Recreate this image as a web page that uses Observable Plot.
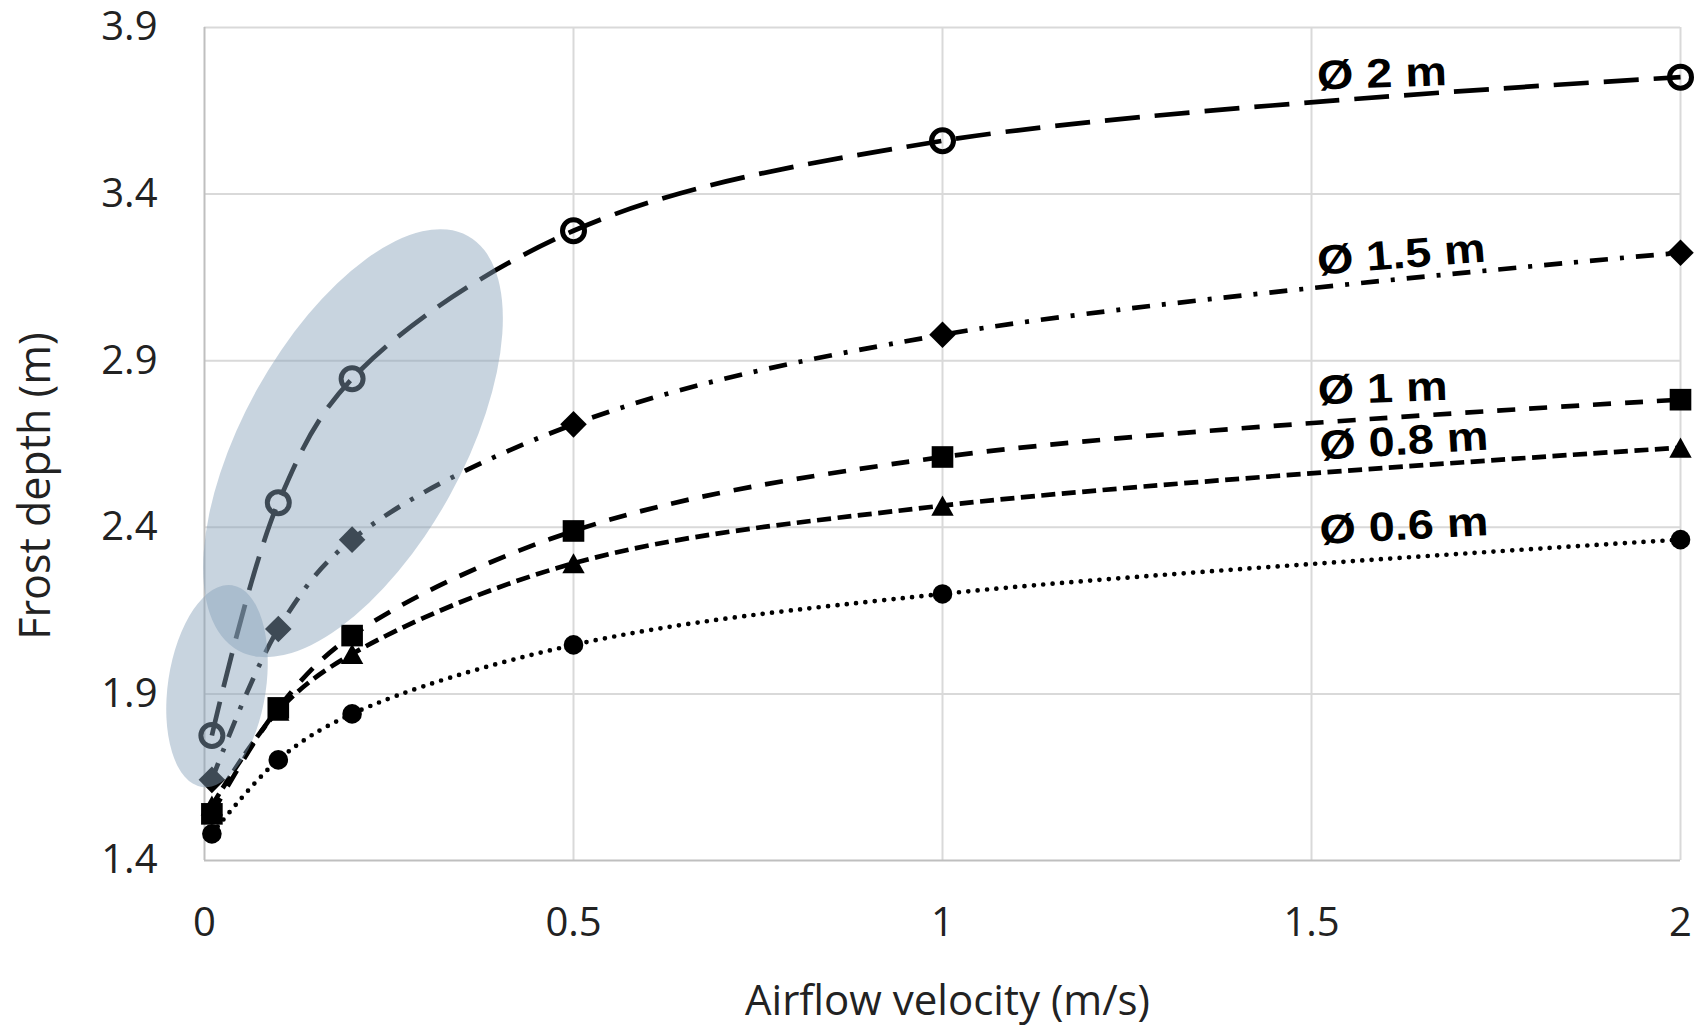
<!DOCTYPE html>
<html>
<head>
<meta charset="utf-8">
<script src="https://cdn.jsdelivr.net/npm/d3@7"></script>
<script src="https://cdn.jsdelivr.net/npm/@observablehq/plot@0.6"></script>
<style>
  body { margin: 0; background: #ffffff; }
  #chart svg { display: block; }
</style>
</head>
<body>
<div id="chart"></div>
<script>
// ---------------- data ----------------
const velocities = [0.01, 0.1, 0.2, 0.5, 1, 2];
const seriesNames = ["Ø 2 m", "Ø 1.5 m", "Ø 1 m", "Ø 0.8 m", "Ø 0.6 m"];
const depth2m   = [1.775, 2.474, 2.846, 3.290, 3.560, 3.751];
const depth15m  = [1.642, 2.095, 2.363, 2.709, 2.978, 3.224];
const depth1m   = [1.540, 1.858, 2.075, 2.389, 2.611, 2.783];
const depth08m  = [1.565, 1.850, 2.020, 2.292, 2.465, 2.639];
const depth06m  = [1.480, 1.702, 1.840, 2.047, 2.200, 2.363];
const xTicks = [0, 0.5, 1, 1.5, 2];
const yTicks = [1.4, 1.9, 2.4, 2.9, 3.4, 3.9];

// label anchors (data units) for the series names
const labelX = [1.508, 1.509, 1.509, 1.512, 1.512];
const labelY = [3.714, 3.158, 2.769, 2.603, 2.350];

// highlight ellipses (centres in data units)
const highlightX = [0.2019, 0.0176];
const highlightY = [2.651, 1.922];

// ---------------- styles ----------------
const diamondSym = {
  draw(ctx, size) {
    const h = Math.sqrt(size / 2);
    ctx.moveTo(0, -h); ctx.lineTo(h, 0); ctx.lineTo(0, h); ctx.lineTo(-h, 0); ctx.closePath();
  }
};
const triangleSym = {
  draw(ctx, size) {
    const r = Math.sqrt(size / Math.PI);
    ctx.moveTo(0, -0.9 * r); ctx.lineTo(r, 0.9 * r); ctx.lineTo(-r, 0.9 * r); ctx.closePath();
  }
};
const seriesValues = [depth2m, depth15m, depth1m, depth08m, depth06m];
const seriesStyle = [
  {dash: "35,15", cap: "butt", symbol: "circle", r: 11, fill: "none", sw: 5},
  {dash: "18,12,4,12", cap: "butt", symbol: diamondSym, r: 10.6, fill: "black", sw: 0},
  {dash: "18,14", cap: "butt", symbol: "square", r: 12.2, fill: "black", sw: 0},
  {dash: "14,6.5", cap: "butt", symbol: triangleSym, r: 11.2, fill: "black", sw: 0},
  {dash: "0,9.4", cap: "round", symbol: "circle", r: 9.8, fill: "black", sw: 0}
];
const labelAngle = [-2, -4.5, -2, -3.5, -3];
const ellipseRx = [237, 102];
const ellipseRy = [110, 49];
const ellipseAngle = [-61, -81.5];

const rows = seriesNames.map((name, s) =>
  velocities.map((v, i) => ({series: name, x: v, y: seriesValues[s][i]})));

const labelRows = seriesNames.map((name, i) => ({text: name, x: labelX[i], y: labelY[i], a: labelAngle[i]}));

function ellipses(index, scales) {
  const g = d3.create("svg:g");
  highlightX.forEach((hx, i) => {
    const cx = scales.x(hx), cy = scales.y(highlightY[i]);
    g.append("ellipse")
      .attr("cx", cx).attr("cy", cy)
      .attr("rx", ellipseRx[i]).attr("ry", ellipseRy[i])
      .attr("transform", `rotate(${ellipseAngle[i]},${cx},${cy})`)
      .attr("fill", "#87a1b9").attr("fill-opacity", 0.46);
  });
  return g.node();
}

const marks = [
  Plot.ruleX(xTicks.filter(d => d > 0), {stroke: "#d9d9d9", strokeWidth: 2}),
  Plot.ruleY(yTicks.filter(d => d > 1.4), {stroke: "#d9d9d9", strokeWidth: 2}),
  Plot.ruleX([0], {stroke: "#bfbfbf", strokeWidth: 2}),
  Plot.ruleY([1.4], {stroke: "#bfbfbf", strokeWidth: 2})
];
rows.forEach((data, s) => {
  const st = seriesStyle[s];
  marks.push(Plot.line(data, {x: "x", y: "y", curve: "catmull-rom", stroke: "black",
    strokeWidth: 4.7, strokeDasharray: st.dash, strokeLinecap: st.cap}));
});
rows.forEach((data, s) => {
  const st = seriesStyle[s];
  marks.push(Plot.dot(data, {x: "x", y: "y", symbol: st.symbol, r: st.r,
    fill: st.fill, stroke: st.sw > 0 ? "black" : "none", strokeWidth: st.sw}));
});
marks.push(ellipses);
marks.push(Plot.text(labelRows, {x: "x", y: "y", text: "text", rotate: "a",
  textAnchor: "start", lineAnchor: "bottom", fontFamily: "Liberation Sans",
  fontWeight: "bold", fontSize: 41, fill: "black"}));
marks.push(Plot.text(["Airflow velocity (m/s)"], {text: d => d, frameAnchor: "bottom",
  lineAnchor: "middle", dx: 5, dy: 141, fontSize: 42, fill: "#222"}));
marks.push(Plot.text(["Frost depth (m)"], {text: d => d, frameAnchor: "left",
  lineAnchor: "middle", textAnchor: "middle", rotate: -90, dx: -168, dy: 42, fontSize: 43, fill: "#222"}));

const chart = Plot.plot({
  width: 1703,
  height: 1026,
  marginLeft: 204,
  marginRight: 23,
  marginTop: 27,
  marginBottom: 166,
  style: {fontFamily: "'Open Sans', sans-serif", fontSize: "40px", color: "#222", background: "#ffffff", overflow: "visible"},
  x: {domain: [0, 2], ticks: xTicks, tickSize: 0, tickPadding: 47, tickFormat: d => String(d), label: null},
  y: {domain: [1.4, 3.9], ticks: yTicks, tickSize: 0, tickPadding: 47, tickFormat: d => String(d), label: null},
  marks
});

// stretch series labels horizontally like the original
chart.querySelectorAll("text").forEach(t => {
  if (t.textContent.startsWith("Ø")) {
    const tr = t.getAttribute("transform") || "";
    t.setAttribute("transform", tr + " scale(1.14,1)");
  }
});
document.getElementById("chart").appendChild(chart);
</script>
</body>
</html>
